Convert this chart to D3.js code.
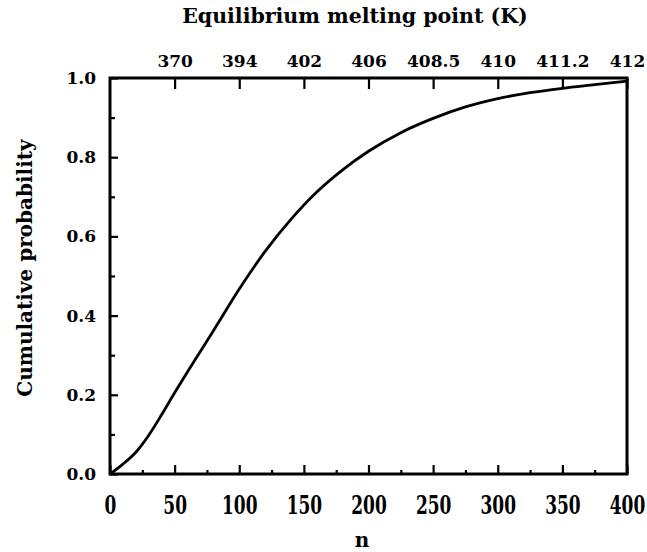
<!DOCTYPE html>
<html>
<head>
<meta charset="utf-8">
<script src="https://cdn.jsdelivr.net/npm/d3@7"></script>
<style>
  body { margin: 0; background: #fff; }
  text { font-family: 'DejaVu Serif', serif; font-weight: bold; fill: #000; }
</style>
</head>
<body>
<div id="d3-container"></div>
<script>
// curve
const nValues = [0, 10, 20, 30, 40, 50, 60, 70, 80, 90, 100, 120, 140, 160, 180, 200, 225, 250, 275, 300, 325, 350, 375, 400];
const probValues = [0, 0.025, 0.055, 0.098, 0.150, 0.205, 0.258, 0.310, 0.362, 0.415, 0.467, 0.562, 0.643, 0.712, 0.768, 0.815, 0.862, 0.898, 0.927, 0.948, 0.963, 0.974, 0.983, 0.992];

const xTicks = [0, 50, 100, 150, 200, 250, 300, 350, 400];
const xMinor = [25, 75, 125, 175, 225, 275, 325, 375];
const yTicks = [0, 0.2, 0.4, 0.6, 0.8, 1.0];
const yMinor = [0.1, 0.3, 0.5, 0.7, 0.9];
const topTickN = [50, 100, 150, 200, 250, 300, 350, 400];
const topTickLabels = ['370', '394', '402', '406', '408.5', '410', '411.2', '412'];

const width = 647, height = 552;
const pLeft = 110, pRight = 627, pTop = 78, pBottom = 474;

const svg = d3.select('#d3-container')
    .append('svg')
    .attr('width', width)
    .attr('height', height);

const xScale = d3.scaleLinear().domain([0, 400]).range([pLeft, pRight]);
const yScale = d3.scaleLinear().domain([0, 1]).range([pBottom, pTop]);

// bottom axis, ticks point inward
const xAxis = d3.axisBottom(xScale)
    .tickValues(xTicks)
    .tickFormat(d3.format('d'))
    .tickSizeInner(-9)
    .tickSizeOuter(0);
const gx = svg.append('g')
    .attr('transform', `translate(0, ${pBottom})`)
    .call(xAxis);
// the bottom numbers are tall and narrow in the original
gx.selectAll('text')
    .attr('y', 0)
    .attr('dy', 0)
    .attr('transform', 'translate(0, 40) scale(1, 1.5)')
    .style('font-size', '17px');
svg.append('g')
    .attr('transform', `translate(0, ${pBottom})`)
    .call(d3.axisBottom(xScale).tickValues(xMinor).tickFormat('').tickSizeInner(-4).tickSizeOuter(0));

const yAxis = d3.axisLeft(yScale)
    .tickValues(yTicks)
    .tickFormat(d3.format('.1f'))
    .tickSizeInner(-8)
    .tickSizeOuter(0)
    .tickPadding(14);
const gy = svg.append('g')
    .attr('transform', `translate(${pLeft}, 0)`)
    .call(yAxis);
gy.selectAll('text').style('font-size', '17px');
svg.append('g')
    .attr('transform', `translate(${pLeft}, 0)`)
    .call(d3.axisLeft(yScale).tickValues(yMinor).tickFormat('').tickSizeInner(-5).tickSizeOuter(0));

const topAxis = d3.axisTop(xScale)
    .tickValues(topTickN)
    .tickFormat((d, i) => topTickLabels[i])
    .tickSizeInner(-11)
    .tickSizeOuter(0)
    .tickPadding(11);
const gt = svg.append('g')
    .attr('transform', `translate(0, ${pTop})`)
    .call(topAxis);
gt.selectAll('text').style('font-size', '17px');

svg.selectAll('.tick line').attr('stroke-width', 2.2);
svg.selectAll('.domain').attr('stroke', 'none');

// frame
svg.append('rect')
    .attr('x', pLeft)
    .attr('y', pTop)
    .attr('width', pRight - pLeft)
    .attr('height', pBottom - pTop)
    .attr('fill', 'none')
    .attr('stroke', '#000')
    .attr('stroke-width', 3);

const line = d3.line()
    .x((d, i) => xScale(nValues[i]))
    .y(d => yScale(d))
    .curve(d3.curveMonotoneX);

svg.append('path')
    .datum(probValues)
    .attr('d', line)
    .attr('fill', 'none')
    .attr('stroke', '#000')
    .attr('stroke-width', 2.8);

svg.append('text')
    .attr('x', 355)
    .attr('y', 23)
    .attr('text-anchor', 'middle')
    .style('font-size', '20.5px')
    .text('Equilibrium melting point (K)');

svg.append('text')
    .attr('transform', 'translate(32, 268) rotate(-90)')
    .attr('text-anchor', 'middle')
    .style('font-size', '20px')
    .text('Cumulative probability');

svg.append('text')
    .attr('x', 362)
    .attr('y', 547)
    .attr('text-anchor', 'middle')
    .style('font-size', '20px')
    .text('n');
</script>
</body>
</html>
